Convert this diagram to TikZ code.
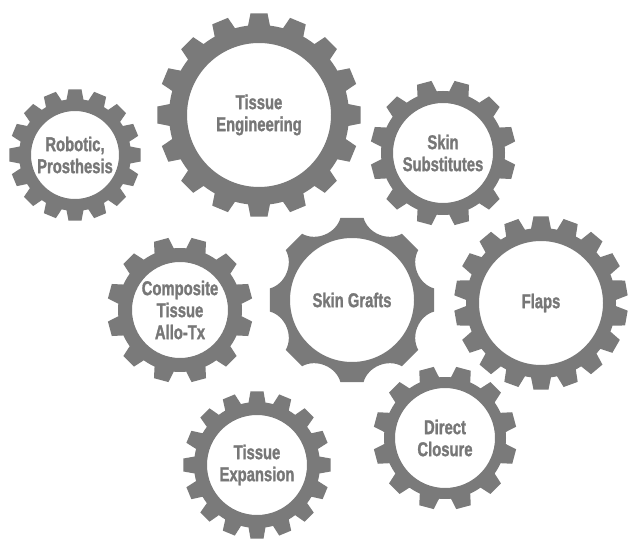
\documentclass[tikz,border=0pt]{standalone}
\usepackage{fontspec}
\setmainfont{Liberation Sans}
\newfontfamily\cogfont{Liberation Sans Bold}[FakeStretch=0.74,FakeBold=1.3]
\usepackage{tikz}
\definecolor{cog}{HTML}{7A7A7A}
\definecolor{cogtext}{HTML}{777777}

% ring with square teeth: centre, teeth, offset, outer, root, hole, tip half width, base half width
\newcommand{\cogwheel}[8]{%
  \pgfmathsetmacro\cgpitch{360/#2}%
  \pgfmathsetmacro\cgtip{deg(#7/#4)}%
  \pgfmathsetmacro\cgbase{deg(#8/#5)}%
  \pgfmathtruncatemacro\cglast{#2-1}%
  \fill[cog,even odd rule,shift={(#1)}] (#3-\cgbase:#5pt)
    \foreach \k [evaluate=\k as \ang using #3+\k*\cgpitch] in {0,...,\cglast} {
      -- (\ang-\cgbase:#5pt) -- (\ang-\cgtip:#4pt) -- (\ang+\cgtip:#4pt) -- (\ang+\cgbase:#5pt)
      arc[start angle=\ang+\cgbase, end angle=\ang+\cgpitch-\cgbase, radius=#5pt]
    } -- cycle
    (0,0) circle[radius=#6pt];
}

\begin{document}
\begin{tikzpicture}[
  x=1pt,y=1pt,
  lbl/.style={text=cogtext,align=center,inner sep=0pt,
              font=\cogfont\fontsize{20}{22}\selectfont}
]
\path[fill=white,use as bounding box] (0,0) rectangle (628,538);

\node[lbl] (te) at (259,423) {Tissue\\Engineering};
\node[lbl] (rp) at (75,383) {Robotic,\\Prosthesis};
\node[lbl] (ss) at (443,385) {Skin\\Substitutes};
\node[lbl] (sg) at (352,238) {Skin Grafts};
\node[lbl] (fl) at (541,235) {Flaps};
\node[lbl] (ct) at (180,228) {Composite\\Tissue\\Allo-Tx};
\node[lbl] (tx) at (257,73) {Tissue\\Expansion};
\node[lbl] (dc) at (445,100) {Direct\\Closure};

% square-toothed gears
\cogwheel{te.center}{16}{0}{102}{90}{72}{8.5}{11}
\cogwheel{rp.center}{16}{0}{66}{56}{44}{6.5}{8.5}
\cogwheel{ss.center}{12}{15}{73}{62}{50}{7.5}{10}
\cogwheel{ct.center}{12}{15}{73}{62}{48}{7.5}{10}
\cogwheel{tx.center}{16}{0}{74}{63}{50}{6.5}{8.5}
\cogwheel{dc.center}{12}{15}{72}{61}{50}{7.5}{10}
\cogwheel{fl.center}{18}{10}{87}{75}{62}{7.5}{10}

% scalloped gear in the middle
\fill[cog,even odd rule,shift={(sg.center)}] (8:83pt)
  \foreach \k [evaluate=\k as \ang using \k*45] in {0,...,7} {
    to[bend left=52] (\ang+37:83pt) -- (\ang+53:83pt)
  } -- cycle
  (0,0) circle[radius=62pt];
\end{tikzpicture}
\end{document}
